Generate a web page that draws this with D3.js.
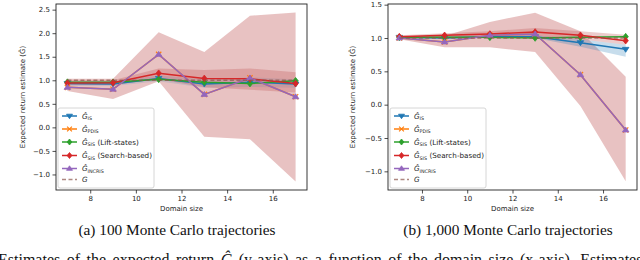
<!DOCTYPE html>
<html>
<head>
<meta charset="utf-8">
<script src="https://cdn.jsdelivr.net/npm/d3@7"></script>
<style>
  body { margin: 0; background: #fff; }
  svg { display: block; }
</style>
</head>
<body>
<svg id="chart"></svg>
<script>
const width = 640
const height = 260

// domain sizes (x axis)
const domainSizes = [7, 9, 11, 13, 15, 17]

// (a) 100 trajectories
const isA      = [0.93, 0.92, 1.04, 0.92, 0.96, 0.92]
const incrisA  = [0.85, 0.81, 1.55, 0.70, 1.05, 0.65]
const pdisA    = [0.85, 0.81, 1.55, 0.70, 1.05, 0.65]
const liftA    = [0.96, 0.96, 1.02, 0.96, 0.93, 0.99]
const searchA  = [0.94, 0.95, 1.15, 1.04, 1.03, 0.93]
const trueA    = [1.0, 1.0, 1.0, 1.0, 1.0, 1.0]
const incrisLoA = [0.77, 0.60, 0.98, -0.20, -0.25, -1.15]
const incrisHiA = [1.03, 1.03, 2.02, 1.60, 2.37, 2.44]
const searchLoA = [0.90, 0.90, 1.02, 0.85, 0.80, 0.74]
const searchHiA = [1.00, 1.00, 1.25, 1.22, 1.25, 1.17]
const isLoA     = [0.88, 0.88, 0.98, 0.84, 0.86, 0.84]
const isHiA     = [0.98, 0.98, 1.10, 1.02, 1.06, 1.02]
const yTicksA   = [-1.0, -0.5, 0.0, 0.5, 1.0, 1.5, 2.0, 2.5]

// (b) 1,000 trajectories
const isB      = [1.01, 1.00, 1.02, 1.02, 0.93, 0.83]
const incrisB  = [1.00, 0.94, 1.04, 1.06, 0.45, -0.38]
const pdisB    = [1.00, 0.94, 1.04, 1.06, 0.45, -0.38]
const liftB    = [1.01, 1.01, 1.01, 1.00, 1.01, 1.02]
const searchB  = [1.02, 1.04, 1.06, 1.09, 1.04, 0.96]
const trueB    = [1.0, 1.0, 1.0, 1.0, 1.0, 1.0]
const incrisLoB = [0.98, 0.86, 0.86, 0.79, -0.02, -1.15]
const incrisHiB = [1.02, 1.03, 1.24, 1.38, 1.10, 0.42]
const searchLoB = [1.00, 1.00, 1.02, 1.03, 0.98, 0.90]
const searchHiB = [1.04, 1.07, 1.10, 1.15, 1.10, 1.05]
const isLoB     = [0.99, 0.99, 1.00, 1.00, 0.87, 0.72]
const isHiB     = [1.03, 1.03, 1.04, 1.04, 0.98, 0.90]
const yTicksB   = [-1.0, -0.5, 0.0, 0.5, 1.0, 1.5]

const xTicks = [8, 10, 12, 14, 16]

const svg = d3.select("#chart")
              .attr("width", width)
              .attr("height", height)
              .attr("font-family", "DejaVu Sans, sans-serif")

const fmt = d => d3.format(".1f")(d).replace("-", "\u2212")

function marker(sel, type, color, size) {
  const s = size
  let d
  if (type === "tdown") d = `M${-s},${-s*0.6}L${s},${-s*0.6}L0,${s*0.9}Z`
  else if (type === "tup") d = `M${-s},${s*0.6}L${s},${s*0.6}L0,${-s*0.9}Z`
  else if (type === "diamond") d = `M0,${-s}L${s*0.8},0L0,${s}L${-s*0.8},0Z`
  else if (type === "x") d = `M${-s*0.8},${-s*0.8}L${s*0.8},${s*0.8}M${-s*0.8},${s*0.8}L${s*0.8},${-s*0.8}`
  const p = sel.append("path").attr("d", d)
  if (type === "x") p.attr("fill", "none").attr("stroke", color).attr("stroke-width", 1.2)
  else p.attr("fill", color).attr("stroke", color).attr("stroke-width", 0.8)
}

const seriesDefs = [
  { key: "is",     color: "#1f77b4", mk: "tdown",   sub: "IS",    extra: "" },
  { key: "pdis",   color: "#ff7f0e", mk: "x",       sub: "PDIS",  extra: "" },
  { key: "lift",   color: "#2ca02c", mk: "diamond", sub: "SIS",   extra: " (Lift-states)" },
  { key: "search", color: "#d62728", mk: "diamond", sub: "SIS",   extra: " (Search-based)" },
  { key: "incris", color: "#9467bd", mk: "tup",     sub: "INCRIS", extra: "" },
]

function drawPanel(p) {
  const x = d3.scaleLinear().domain([6.5, 17.5]).range([p.left, p.right])
  const y = d3.scaleLinear().domain(p.yDomain).range([190, 4])
  const g = svg.append("g")

  const area = (lo, hi) => d3.area()
    .x((d, i) => x(domainSizes[i]))
    .y0((d, i) => y(lo[i]))
    .y1((d, i) => y(hi[i]))(lo)

  // bands
  g.append("path").attr("d", area(p.incrisLo, p.incrisHi))
   .attr("fill", "#bf5656").attr("fill-opacity", 0.36)
  g.append("path").attr("d", area(p.isLo, p.isHi))
   .attr("fill", p.isBandColor).attr("fill-opacity", p.isBandOpacity)
  g.append("path").attr("d", area(p.searchLo, p.searchHi))
   .attr("fill", "#bf5656").attr("fill-opacity", 0.3)

  const line = d3.line().x((d, i) => x(domainSizes[i])).y(d => y(d))

  seriesDefs.forEach(s => {
    const vals = p.series[s.key]
    g.append("path").attr("d", line(vals))
     .attr("fill", "none").attr("stroke", s.color).attr("stroke-width", 1.5)
    vals.forEach((v, i) => {
      const m = g.append("g").attr("transform", `translate(${x(domainSizes[i])},${y(v)})`)
      marker(m, s.mk, s.color, 3.3)
    })
  })

  // true value
  g.append("path").attr("d", line(p.series.truth))
   .attr("fill", "none").attr("stroke", "#8c564b").attr("stroke-opacity", 0.7)
   .attr("stroke-width", 1.5).attr("stroke-dasharray", "4,2.5")

  // axes
  const xAxis = d3.axisBottom(x).tickValues(xTicks).tickSize(3.5).tickPadding(2.5)
  const yAxis = d3.axisLeft(y).tickValues(p.yTicks).tickSize(3.5).tickPadding(2.5).tickFormat(fmt)
  const ax = g.append("g").attr("transform", "translate(0,190)").call(xAxis)
  const ay = g.append("g").attr("transform", `translate(${p.left},0)`).call(yAxis)
  ;[ax, ay].forEach(a => {
    a.select(".domain").remove()
    a.selectAll("text").attr("font-size", 7).attr("fill", "#222").attr("font-family", "DejaVu Sans, sans-serif")
    a.selectAll("line").attr("stroke", "#222").attr("stroke-width", 0.8)
  })

  g.append("rect").attr("x", p.left).attr("y", 4)
   .attr("width", p.right - p.left).attr("height", 186)
   .attr("fill", "none").attr("stroke", "#222").attr("stroke-width", 0.9)

  g.append("text").attr("x", (p.left + p.right) / 2).attr("y", 211)
   .attr("text-anchor", "middle").attr("font-size", 7).attr("fill", "#222")
   .text("Domain size")

  g.append("text")
   .attr("transform", `translate(${p.yLabelX},97) rotate(-90)`)
   .attr("text-anchor", "middle").attr("font-size", 7).attr("fill", "#222")
   .text("Expected return estimate (\u011C)")

  // legend
  const lx = p.left + 2
  const leg = g.append("g")
  leg.append("rect").attr("x", lx).attr("y", 108).attr("width", 96).attr("height", 80)
     .attr("rx", 2).attr("fill", "#fff").attr("fill-opacity", 0.85)
     .attr("stroke", "#ccc").attr("stroke-width", 0.8)
  const rows = [116, 129, 142, 155.5, 168.5, 179.5]
  seriesDefs.forEach((s, i) => {
    const ry = rows[i]
    leg.append("line").attr("x1", lx + 4).attr("x2", lx + 19).attr("y1", ry).attr("y2", ry)
       .attr("stroke", s.color).attr("stroke-width", 1.5)
    const m = leg.append("g").attr("transform", `translate(${lx + 11.5},${ry})`)
    marker(m, s.mk, s.color, 3)
    const t = leg.append("text").attr("x", lx + 24).attr("y", ry + 2.5)
                 .attr("font-size", 7.2).attr("fill", "#222")
    t.append("tspan").attr("font-style", "italic").text("\u011C")
    t.append("tspan").attr("font-size", 4.8).attr("dy", 1.5).text(s.sub)
    t.append("tspan").attr("dy", -1.5).text(s.extra)
  })
  const gy = rows[5]
  leg.append("line").attr("x1", lx + 4).attr("x2", lx + 19).attr("y1", gy).attr("y2", gy)
     .attr("stroke", "#8c564b").attr("stroke-opacity", 0.7)
     .attr("stroke-width", 1.5).attr("stroke-dasharray", "4,2.5")
  leg.append("text").attr("x", lx + 24).attr("y", gy + 2.5)
     .attr("font-size", 7.2).attr("font-style", "italic").attr("fill", "#222").text("G")

  // caption
  svg.append("text").attr("x", p.captionX).attr("y", 235)
     .attr("text-anchor", "middle").attr("font-family", "Liberation Serif, serif")
     .attr("font-size", 15.3).attr("fill", "#111").text(p.caption)
}

drawPanel({
  left: 56, right: 307, yDomain: [-1.33, 2.62], yTicks: yTicksA, yLabelX: 25,
  series: { is: isA, pdis: pdisA, lift: liftA, search: searchA, incris: incrisA, truth: trueA },
  incrisLo: incrisLoA, incrisHi: incrisHiA, searchLo: searchLoA, searchHi: searchHiA,
  isLo: isLoA, isHi: isHiA, isBandColor: "#1f77b4", isBandOpacity: 0.15,
  captionX: 177, caption: "(a) 100 Monte Carlo trajectories"
})

drawPanel({
  left: 388, right: 637, yDomain: [-1.28, 1.51], yTicks: yTicksB, yLabelX: 355,
  series: { is: isB, pdis: pdisB, lift: liftB, search: searchB, incris: incrisB, truth: trueB },
  incrisLo: incrisLoB, incrisHi: incrisHiB, searchLo: searchLoB, searchHi: searchHiB,
  isLo: isLoB, isHi: isHiB, isBandColor: "#1f77b4", isBandOpacity: 0.25,
  captionX: 508, caption: "(b) 1,000 Monte Carlo trajectories"
})

// figure caption, cut by the bottom edge as in the source page
const cap = svg.append("text").attr("x", -2).attr("y", 265)
   .attr("font-family", "Liberation Serif, serif").attr("font-size", 16)
   .attr("word-spacing", 2.5).attr("fill", "#111")
cap.append("tspan").text("Estimates of the expected return ")
cap.append("tspan").attr("font-style", "italic").text("\u011C")
cap.append("tspan").text(" (y-axis) as a function of the domain size (x-axis). Estimates")
</script>
</body>
</html>
